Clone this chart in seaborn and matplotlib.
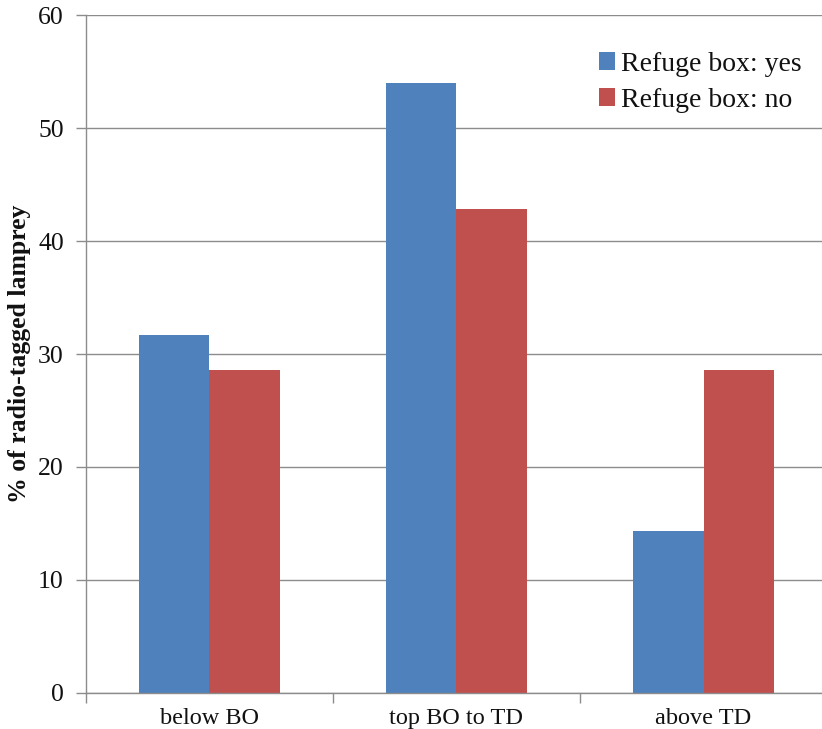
import matplotlib
matplotlib.use("Agg")
import matplotlib.pyplot as plt
from matplotlib.ticker import FixedLocator
import seaborn as sns
import pandas as pd

categories = ["below BO", "top BO to TD", "above TD"]
refuge_yes = [31.7, 54.0, 14.3]
refuge_no = [28.6, 42.8, 28.6]
series_names = ["Refuge box: yes", "Refuge box: no"]
y_ticks = [0, 10, 20, 30, 40, 50, 60]

df = pd.DataFrame({
    "location": categories * 2,
    "percent": refuge_yes + refuge_no,
    "group": [series_names[0]] * 3 + [series_names[1]] * 3,
})

sns.set_theme(style="white")
plt.rcParams["font.family"] = ["Liberation Serif", "DejaVu Serif"]

fig = plt.figure(figsize=(8.22, 7.29), dpi=100)
ax = fig.add_axes([0.1046, 0.0494, 0.9015, 0.93])

sns.barplot(data=df, x="location", y="percent", hue="group",
            palette=["#4F81BD", "#C0504D"], width=0.567, gap=0,
            saturation=1, ax=ax, edgecolor="none", linewidth=0)

grid_color = "#8c8c8c"
ax.set_ylim(0, 60)
ax.set_xlim(-0.5, 2.5)
ax.set_yticks(y_ticks)
ax.yaxis.grid(True, color=grid_color, linewidth=1)
ax.set_axisbelow(True)
for side in ["top", "right"]:
    ax.spines[side].set_visible(False)
for side in ["left", "bottom"]:
    ax.spines[side].set_color(grid_color)
    ax.spines[side].set_linewidth(1)

ax.tick_params(axis="y", which="major", direction="out", length=7,
               color=grid_color, width=1, labelsize=18.5, pad=9,
               labelcolor="#111111", left=True)
ax.tick_params(axis="x", which="major", length=0, labelsize=17.5,
               pad=11, labelcolor="#111111")
ax.xaxis.set_minor_locator(FixedLocator([-0.5, 0.5, 1.5, 2.5]))
ax.tick_params(axis="x", which="minor", direction="out", length=7,
               color=grid_color, width=1, bottom=True)

ax.set_xlabel("")
ax.set_ylabel("% of radio-tagged lamprey", fontsize=18.5, fontweight="bold",
              labelpad=5, color="#111111")

leg = ax.legend(loc="upper left", bbox_to_anchor=(0.677, 0.962), frameon=False,
                fontsize=20, handlelength=0.6, handleheight=0.6,
                handletextpad=0.2, labelspacing=0.4, borderaxespad=0)
for t in leg.get_texts():
    t.set_color("#111111")

fig.savefig("out.png", dpi=100)
